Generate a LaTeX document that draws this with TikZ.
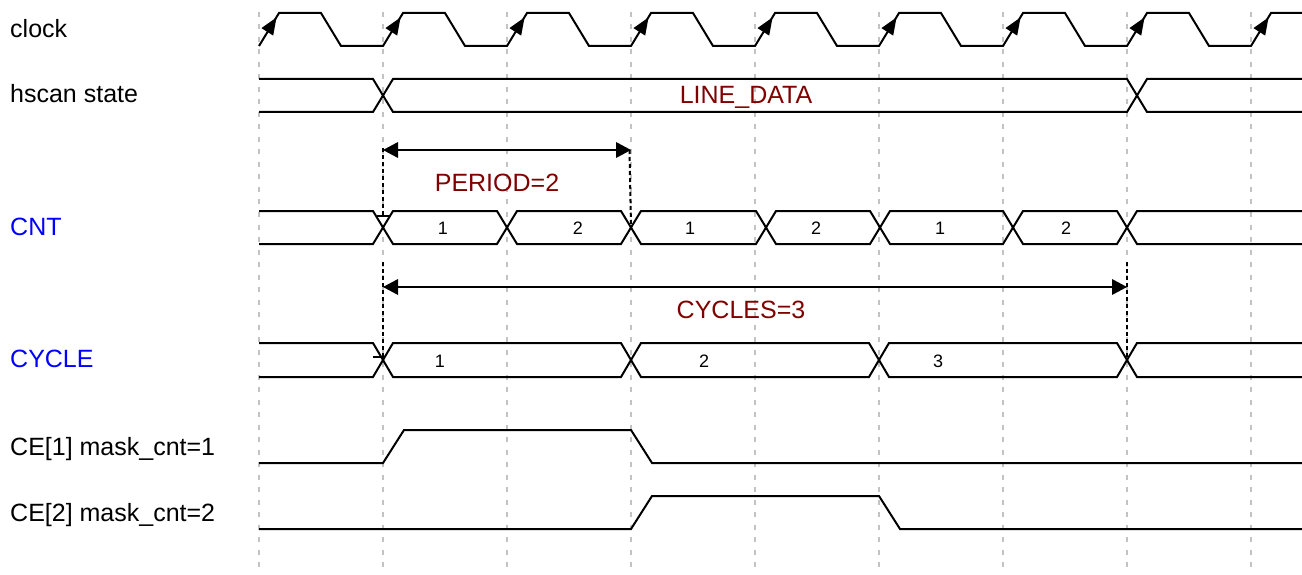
\documentclass[tikz,border=0pt]{standalone}
\usepackage{fontspec}
\setmainfont{Liberation Sans}
\definecolor{lblred}{RGB}{128,0,0}
\definecolor{gridgray}{RGB}{195,195,195}
\tikzset{
  wave/.style={line width=2pt, line join=miter, black},
  gridline/.style={line width=2pt, gridgray, dash pattern=on 5pt off 7.5pt},
  marker/.style={line width=2pt, black, dash pattern=on 4pt off 3pt},
  measure/.style={line width=2pt, black},
  headfill/.style={fill=black},
  siglabel/.style={anchor=base west, font=\fontsize{25}{28}\selectfont, inner sep=0pt},
  bluelabel/.style={siglabel, text=blue},
  redlabel/.style={anchor=base, font=\fontsize{25}{28}\selectfont, inner sep=0pt, text=lblred},
  vallabel/.style={anchor=base, font=\fontsize{18}{20}\selectfont, inner sep=0pt}
}
\begin{document}
\begin{tikzpicture}[x=1pt,y=-1pt]
\useasboundingbox (0,0) rectangle (1302,575);
\fill[white] (0,0) rectangle (1302,575);
% grid
\foreach \k in {0,...,8} {
  \draw[gridline] (259+124*\k,12) -- (259+124*\k,575);
}
% signal names
\node[siglabel] (lclock) at (10,38) {clock};
\node[siglabel] (lhscan) at (10,103) {hscan state};
\node[bluelabel] (lcnt) at (10,236) {CNT};
\node[bluelabel] (lcycle) at (10,367) {CYCLE};
\node[siglabel] (lce1) at (10,455) {CE[1] mask\_cnt=1};
\node[siglabel] (lce2) at (10,521) {CE[2] mask\_cnt=2};
% clock
\draw[wave] (259,46) foreach \k in {0,...,7} { -- ++(20,-33) -- ++(42,0) -- ++(20,33) -- ++(42,0) } -- ++(20,-33) -- (1302,13);
\foreach \k in {0,...,8} {
  \fill[headfill] (259+124*\k+17.5,17.5) -- (259+124*\k+14.2,35.6) -- (259+124*\k+2.4,28.1) -- cycle;
}
% hscan state
\draw[wave] (259,79) -- (373,79) -- (393,112) -- (1127,112) -- (1147,79) -- (1302,79);
\draw[wave] (259,112) -- (373,112) -- (393,79) -- (1127,79) -- (1147,112) -- (1302,112);
\node[redlabel] (tline) at (746,104) {LINE\_DATA};
% CNT bus
\draw[wave] (259,211) -- (373,211) -- (383,227.5) -- (373,244) -- (259,244);
\foreach \a/\b in {383/507,507/631,631/766,766/880,880/1013,1013/1127} {
  \draw[wave] (\a,227.5) -- (\a+10,211) -- (\b-10,211) -- (\b,227.5) -- (\b-10,244) -- (\a+10,244) -- cycle;
}
\draw[wave] (1302,211) -- (1137,211) -- (1127,227.5) -- (1137,244) -- (1302,244);
\node[vallabel] (c1) at (443,234) {1};
\node[vallabel] (c2) at (578,234) {2};
\node[vallabel] (c3) at (690,234) {1};
\node[vallabel] (c4) at (816,234) {2};
\node[vallabel] (c5) at (940,234) {1};
\node[vallabel] (c6) at (1066,234) {2};
% CYCLE bus
\draw[wave] (259,343) -- (373,343) -- (383,360) -- (373,377) -- (259,377);
\foreach \a/\b in {383/631,631/879,879/1127} {
  \draw[wave] (\a,360) -- (\a+10,343) -- (\b-10,343) -- (\b,360) -- (\b-10,377) -- (\a+10,377) -- cycle;
}
\draw[wave] (1302,343) -- (1137,343) -- (1127,360) -- (1137,377) -- (1302,377);
\node[vallabel] (y1) at (440,367) {1};
\node[vallabel] (y2) at (704,367) {2};
\node[vallabel] (y3) at (938,367) {3};
% CE[1]
\draw[wave] (259,463) -- (383,463) -- (404,430) -- (631,430) -- (652,463) -- (1302,463);
% CE[2]
\draw[wave] (259,529) -- (631,529) -- (652,496) -- (879,496) -- (900,529) -- (1302,529);
% PERIOD measure
\coordinate (pL) at (383,150);
\coordinate (pR) at (631,150);
\coordinate (pLb) at (383,216);
\coordinate (pRb) at (631,227);
\draw[marker] (383,148) -- (pLb);
\draw[marker] (629.5,150) -- (pRb);
\draw[line width=1.5pt] (377,216) -- (390,216);
\draw[measure] ([xshift=8pt]pL) -- ([xshift=-8pt]pR);
\fill[headfill] (pL) -- ++(15,-8) -- ++(0,16) -- cycle;
\fill[headfill] (pR) -- ++(-15,-8) -- ++(0,16) -- cycle;
\node[redlabel] (tperiod) at (497,192) {PERIOD=2};
% CYCLES measure
\coordinate (qL) at (383,287);
\coordinate (qR) at (1127,287);
\coordinate (qLb) at (383,357);
\coordinate (qRb) at (1127,357);
\draw[marker] (383,262) -- (qLb);
\draw[marker] (1127,262) -- (qRb);
\draw[line width=1.5pt] (373,357) -- (385,357);
\draw[measure] ([xshift=8pt]qL) -- ([xshift=-8pt]qR);
\fill[headfill] (qL) -- ++(15,-8) -- ++(0,16) -- cycle;
\fill[headfill] (qR) -- ++(-15,-8) -- ++(0,16) -- cycle;
\node[redlabel] (tcycles) at (741,318) {CYCLES=3};
\end{tikzpicture}
\end{document}
